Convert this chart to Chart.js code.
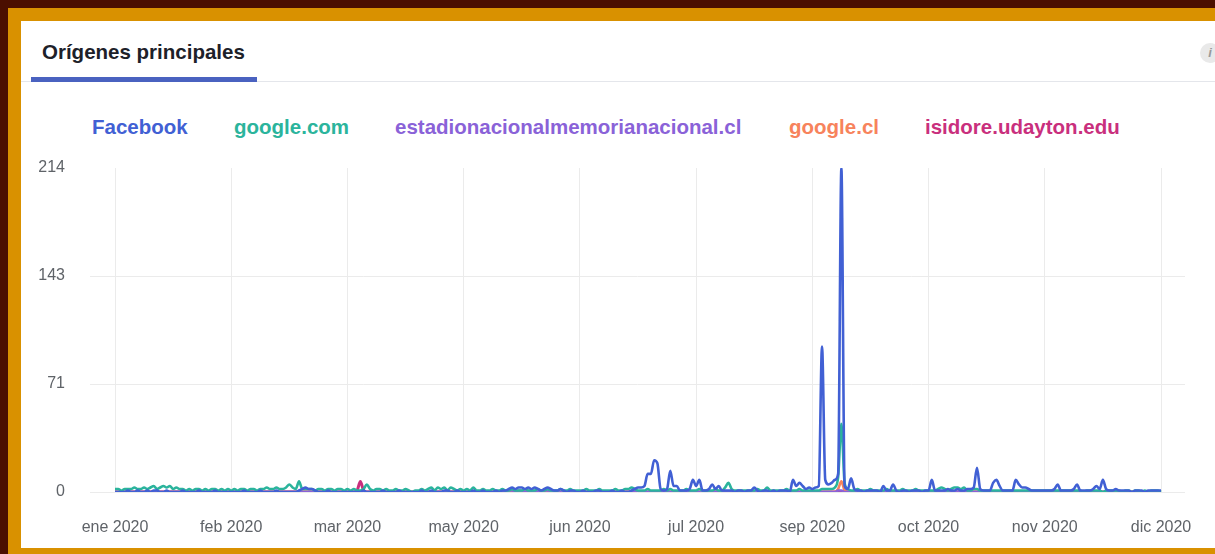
<!DOCTYPE html>
<html>
<head>
<meta charset="utf-8">
<script src="https://cdn.jsdelivr.net/npm/chart.js@4/dist/chart.umd.min.js"></script>
<style>
  html, body { margin: 0; padding: 0; }
  body { width: 1215px; height: 554px; position: relative; overflow: hidden; background: #4b0f00; font-family: "Liberation Sans", Arial, sans-serif; }
  .orange { position: absolute; left: 8px; top: 8px; width: 1207px; height: 546px; background: #d99100; }
  .card { position: absolute; left: 21px; top: 21px; width: 1194px; height: 527px; background: #ffffff; }
  .title { position: absolute; left: 42px; top: 42px; font-size: 20.5px; line-height: 20.5px; font-weight: bold; color: #1d2129; white-space: nowrap; }
  .sep { position: absolute; left: 21px; top: 81px; width: 1194px; height: 1px; background: #e4e6eb; }
  .tabbar { position: absolute; left: 31px; top: 77px; width: 226px; height: 5px; background: #4a62c0; }
  .info { position: absolute; left: 1200px; top: 43px; width: 20px; height: 20px; border-radius: 50%; background: #e9e9e9; color: #9a9a9a; font-size: 13px; line-height: 20px; text-align: center; font-style: italic; font-weight: bold; }
  .leg { position: absolute; top: 117px; font-size: 20.5px; line-height: 20px; font-weight: bold; white-space: nowrap; }
  canvas { position: absolute; left: 0; top: 0; }
</style>
</head>
<body>
<div class="orange"></div>
<div class="card"></div>
<div class="title">Orígenes principales</div>
<div class="sep"></div>
<div class="tabbar"></div>
<div class="info">i</div>
<div id="legend"></div>
<canvas id="c" width="1215" height="554"></canvas>
<script>
// ---- data ----
const seriesNames = ['Facebook', 'google.com', 'estadionacionalmemorianacional.cl', 'google.cl', 'isidore.udayton.edu'];
const seriesColors = ['#4160d4', '#2bb49c', '#8a62d8', '#f7835c', '#c92f7d'];
const legendX = [92, 234, 395, 789, 925];
const tickLabels = ['ene 2020', 'feb 2020', 'mar 2020', 'may 2020', 'jun 2020', 'jul 2020', 'sep 2020', 'oct 2020', 'nov 2020', 'dic 2020'];
const yMaxValue = 214;

const facebook = [
  0,0,0,0,1,0,0,1,0,0,1,0,1,1,0,0,1,0,0,0,0,1,0,0,0,0,1,0,0,0,0,1,0,0,0,0,
  0,0,0,0,1,0,0,0,0,1,0,0,0,0,1,0,0,0,0,0,0,1,2,3,2,2,1,0,0,0,1,0,0,0,0,0,
  0,0,0,0,0,1,0,0,0,0,0,1,0,0,0,0,1,0,0,0,0,0,0,1,0,0,1,0,0,0,1,1,0,0,1,0,
  0,0,0,1,0,0,1,0,0,0,1,0,1,1,2,3,2,3,3,2,3,2,3,2,1,2,3,2,1,1,2,1,0,1,1,0,
  0,1,0,0,0,1,1,0,0,0,1,0,0,1,0,0,1,2,3,3,4,12,12,21,19,2,1,2,14,4,4,1,1,1,2,8,
  4,8,1,1,2,5,2,4,1,1,1,1,0,1,1,0,1,1,3,1,0,1,1,0,1,0,1,1,1,0,8,4,6,4,2,3,
  2,3,4,96,8,5,6,8,12,214,4,2,9,2,1,1,0,1,1,1,1,0,4,1,1,5,1,0,1,1,0,1,1,1,0,1,
  1,8,1,1,1,1,2,1,1,2,1,1,2,2,3,16,2,1,1,1,6,8,4,1,1,1,1,8,5,3,3,2,1,1,1,1,
  1,1,1,2,5,1,1,1,1,2,5,1,1,1,1,2,4,2,8,2,1,1,2,1,1,1,1,0,1,1,1,0,1,1,1,1,
  1
];
const googleCom = [
  2,2,1,2,2,2,3,2,2,3,2,3,4,2,3,4,3,4,2,3,2,2,1,2,1,2,2,1,2,1,2,2,1,2,1,2,
  1,2,1,2,2,1,2,2,1,2,2,3,2,2,3,2,2,3,5,3,2,7,2,2,2,2,1,2,2,1,2,2,1,2,2,1,
  2,1,2,1,1,2,5,2,1,2,2,1,2,1,1,2,1,1,2,1,0,1,1,2,1,2,3,1,3,2,3,1,3,2,1,2,
  1,2,1,3,1,1,2,1,1,2,1,1,2,1,1,2,1,1,1,2,1,1,1,2,1,1,2,1,1,1,2,1,1,2,1,1,
  1,1,2,1,1,1,2,1,1,1,1,2,1,1,2,2,3,2,1,1,1,2,1,1,1,1,2,1,2,1,1,1,1,2,1,1,
  1,2,1,1,1,1,2,1,1,3,6,2,1,1,1,1,1,1,1,2,1,1,3,1,1,1,1,1,2,1,1,1,2,1,1,1,
  1,1,1,2,2,2,2,3,10,45,6,2,1,1,2,1,1,1,2,1,1,1,1,2,1,1,1,1,2,1,1,1,2,1,1,1,
  1,1,1,2,3,2,1,2,3,3,2,3,1,1,2,2,1,1,1,1,1,1,1,1,1,1,1,1,1,1,1,1,1,1,1,1,
  1,1,1,1,1,1,1,1,1,1,1,1,0,1,1,1,1,1,0,1,1,1,1,1,0,1,1,0,1,1,0,1,0,1,1,1,
  0
];
const estadio = [
  0,0,0,0,0,0,0,0,0,0,0,0,0,0,0,0,0,0,0,0,0,0,0,0,0,0,0,0,0,0,0,0,0,0,0,0,
  0,0,0,0,0,0,0,0,0,0,0,0,0,0,0,0,0,0,0,0,0,0,0,0,0,0,0,0,0,0,0,0,0,0,0,0,
  0,0,0,0,0,0,0,0,0,0,0,0,0,0,0,0,0,0,0,0,0,0,0,0,0,0,0,0,0,0,0,0,0,0,0,0,
  0,0,0,0,0,0,0,0,0,0,0,0,0,0,1,1,0,1,1,0,1,0,1,0,0,1,1,0,0,0,0,0,0,0,0,0,
  0,0,0,0,0,0,0,0,0,0,0,0,0,0,0,0,0,0,0,0,0,0,0,0,0,0,0,0,0,0,0,0,0,0,0,0,
  0,0,0,0,0,0,0,0,0,0,0,0,0,0,0,0,0,0,0,0,0,0,0,0,0,0,0,0,0,0,0,0,0,0,0,0,
  0,0,0,0,0,0,0,0,1,1,0,0,0,0,0,0,0,0,0,0,0,0,0,0,0,0,0,0,0,0,0,0,0,0,0,0,
  0,0,0,0,0,0,0,0,0,0,0,0,0,0,0,0,0,0,0,0,0,0,0,0,0,0,0,0,0,0,0,0,0,0,0,0,
  0,0,0,0,0,0,0,0,0,0,0,0,0,0,0,0,0,0,0,0,0,0,0,0,0,0,0,0,0,0,0,0,0,0,0,0,
  0
];
const googleCl = [
  0,0,0,0,0,0,0,0,0,0,0,0,0,0,0,0,0,0,0,0,0,0,0,0,0,0,0,0,0,0,0,0,0,0,0,0,
  0,0,0,0,0,0,0,0,0,0,0,0,0,0,0,0,0,0,0,0,0,0,0,0,0,0,0,0,0,0,0,0,0,0,0,0,
  0,0,0,0,0,0,0,0,0,0,0,0,0,0,0,0,0,0,0,0,0,0,0,0,0,0,0,0,0,0,0,0,0,0,0,0,
  0,0,0,0,0,0,0,0,0,0,0,0,0,0,0,0,0,0,0,0,0,0,0,0,0,0,0,0,0,0,0,0,0,0,0,0,
  0,0,0,0,0,0,0,0,0,0,0,0,0,0,0,0,0,0,0,0,0,0,0,0,0,0,0,0,0,0,0,0,0,0,0,0,
  0,0,0,0,0,0,0,0,0,0,0,0,0,0,0,0,0,0,0,0,0,0,0,0,0,0,0,0,0,0,0,0,0,0,0,0,
  0,0,0,0,0,0,0,0,2,7,1,0,0,0,0,0,0,0,0,0,0,0,0,0,0,0,0,0,0,0,0,0,0,0,0,0,
  0,0,0,0,0,0,0,0,0,0,0,0,0,0,0,0,0,0,0,0,0,0,0,0,0,0,0,0,0,0,0,0,0,0,0,0,
  0,0,0,0,0,0,0,0,0,0,0,0,0,0,0,0,0,0,0,0,0,0,0,0,0,0,0,0,0,0,0,0,0,0,0,0,
  0
];
const isidore = [
  0,0,0,0,0,0,0,0,0,0,0,0,0,0,0,0,0,0,0,0,0,0,0,0,0,0,0,0,0,0,0,0,0,0,0,0,
  0,0,0,0,0,0,0,0,0,0,0,0,0,0,0,0,0,0,0,0,0,0,0,0,0,0,0,0,0,0,0,0,0,0,0,0,
  0,0,0,1,7,1,0,0,0,0,0,0,0,0,0,0,0,0,0,0,0,0,0,0,0,0,0,0,0,0,0,0,0,0,0,0,
  0,0,0,0,0,0,0,0,0,0,0,0,0,0,0,0,0,0,0,0,0,0,0,0,0,0,0,0,0,0,0,0,0,0,0,0,
  0,0,0,0,0,0,0,0,0,0,0,0,0,0,0,0,0,0,0,0,0,0,0,0,0,0,0,0,0,0,0,0,0,0,0,0,
  0,0,0,0,0,0,0,0,0,0,0,0,0,0,0,0,0,0,0,0,0,0,0,0,0,0,0,0,0,0,0,0,0,0,0,0,
  0,0,0,0,0,0,0,0,0,0,0,0,0,0,0,0,0,0,0,0,0,0,0,0,0,0,0,0,0,0,0,0,0,0,0,0,
  0,0,0,0,0,0,0,0,0,0,0,0,0,0,0,0,0,0,0,0,0,0,0,0,0,0,0,0,0,0,0,0,0,0,0,0,
  0,0,0,0,0,0,0,0,0,0,0,0,0,0,0,0,0,0,0,0,0,0,0,0,0,0,0,0,0,0,0,0,0,0,0,0,
  0
];

// ---- HTML legend ----
const legendEl = document.getElementById('legend');
seriesNames.forEach((n, k) => {
  const s = document.createElement('div');
  s.className = 'leg';
  s.textContent = n;
  s.style.left = legendX[k] + 'px';
  s.style.color = seriesColors[k];
  legendEl.appendChild(s);
});

// ---- chart ----
const allSeries = [facebook, googleCom, estadio, googleCl, isidore];
const lineWidths = [2.6, 2.6, 2.6, 2.6, 3];
const nPoints = facebook.length;
const step = (nPoints - 1) / (tickLabels.length - 1);
const pxPerUnit = (1161 - 115) / (nPoints - 1);

const datasets = allSeries.map((vals, k) => ({
  label: seriesNames[k],
  data: vals.map((v, i) => ({ x: i, y: v })),
  borderColor: seriesColors[k],
  backgroundColor: seriesColors[k],
  borderWidth: lineWidths[k],
  pointRadius: 0,
  fill: false,
  cubicInterpolationMode: 'monotone',
  tension: 0.3
}));

new Chart(document.getElementById('c'), {
  type: 'line',
  data: { datasets },
  options: {
    responsive: false,
    animation: false,
    devicePixelRatio: 1,
    layout: { padding: { left: 0, top: 168, right: 30, bottom: 0 } },
    plugins: { legend: { display: false }, tooltip: { enabled: false } },
    scales: {
      x: {
        type: 'linear',
        min: -25 / pxPerUnit,
        max: (nPoints - 1) + 24 / pxPerUnit,
        afterBuildTicks: (s) => { s.ticks = tickLabels.map((t, j) => ({ value: j * step })); },
        afterFit: (s) => { s.height = 62; s.paddingLeft = 0; s.paddingRight = 0; },
        border: { display: false },
        grid: { color: '#ebebeb', lineWidth: 1, drawTicks: false },
        ticks: {
          autoSkip: false, maxRotation: 0, padding: 26,
          color: '#5f6368',
          font: { family: '"Liberation Sans", Arial, sans-serif', size: 16 },
          callback: (v) => tickLabels[Math.round(v / step)]
        }
      },
      y: {
        type: 'linear',
        min: 0,
        max: yMaxValue,
        afterBuildTicks: (s) => { s.ticks = [0, 1, 2, 3].map(j => ({ value: j * yMaxValue / 3 })); },
        afterFit: (s) => { s.width = 90; s.paddingTop = 0; s.paddingBottom = 0; },
        border: { display: false },
        grid: {
          drawTicks: false, lineWidth: 1,
          color: (ctx) => (ctx.tick && ctx.tick.value >= yMaxValue) ? 'rgba(0,0,0,0)' : '#ebebeb'
        },
        ticks: {
          padding: 25,
          color: '#5f6368',
          font: { family: '"Liberation Sans", Arial, sans-serif', size: 16 },
          callback: (v) => String(Math.round(v))
        }
      }
    }
  }
});
</script>
</body>
</html>
